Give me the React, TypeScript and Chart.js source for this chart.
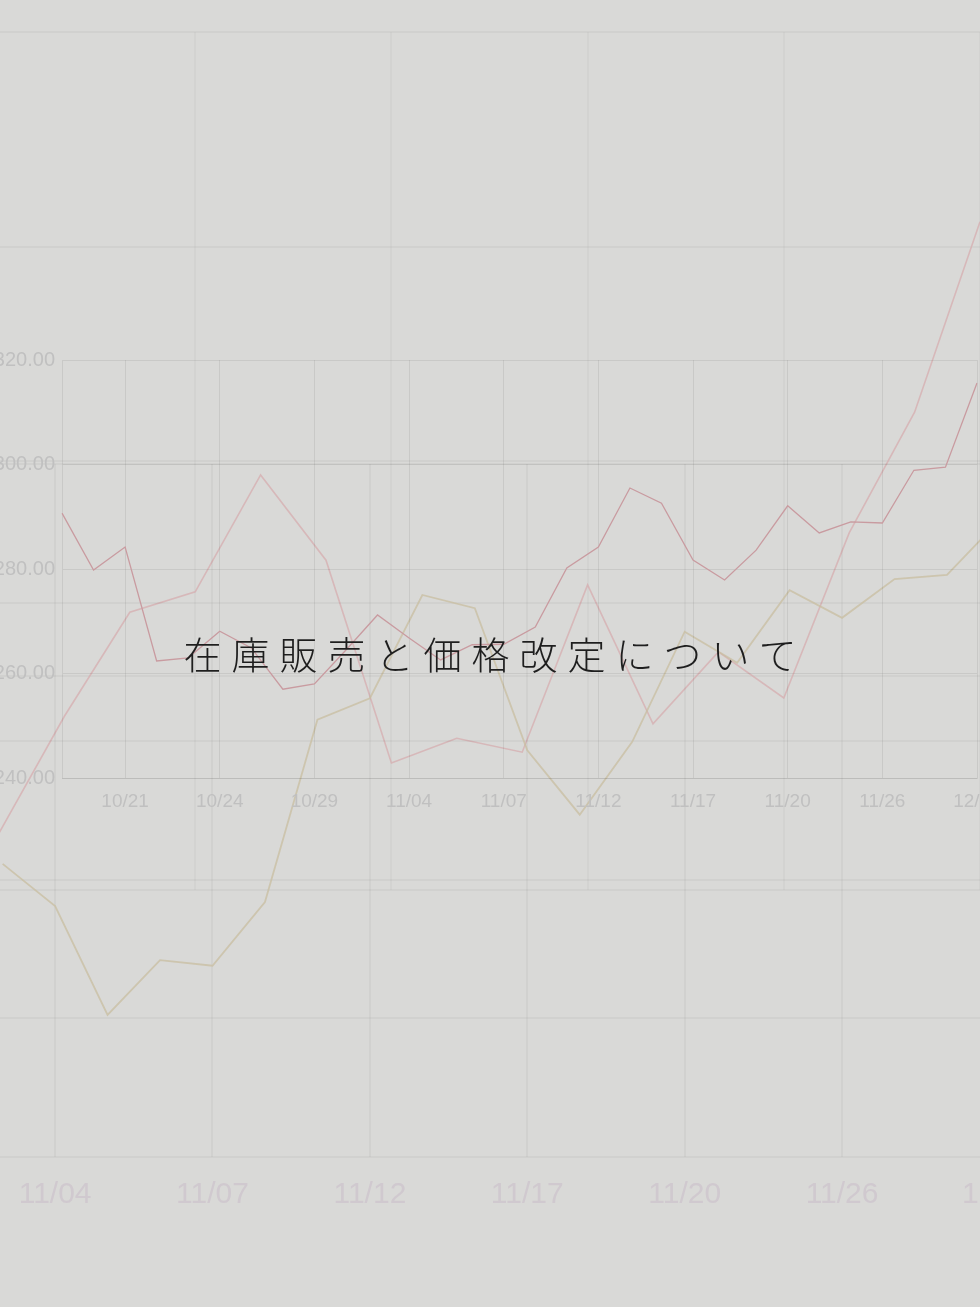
import React, { useEffect, useRef } from "react";
import { Chart, registerables } from "chart.js";
Chart.register(...registerables);

// ---- data ----
const dateLabels = [
  "10/17", "10/20", "10/21", "10/22", "10/23", "10/24", "10/27", "10/28", "10/29", "10/30",
  "10/31", "11/04", "11/05", "11/06", "11/07", "11/10", "11/11", "11/12", "11/13", "11/14",
  "11/17", "11/18", "11/19", "11/20", "11/21", "11/25", "11/26", "11/27", "11/28", "12/01",
];
// foreground price series
const priceSeries = [
  290.7, 279.8, 284.2, 262.4, 263.0, 268.1, 264.9, 257.0, 258.0, 264.5,
  271.2, 266.8, 262.6, 265.5, 265.6, 268.9, 280.2, 284.2, 295.5, 292.6,
  281.7, 277.9, 283.6, 292.1, 286.9, 289.0, 288.8, 298.9, 299.5, 315.6,
];
const yTicks = [240, 260, 280, 300, 320];
// enlarged background series (beige)
const bgBeigeSeries = [
  null, null, null, null, null, null, null, null, null, null,
  242.3, 236.2, 220.5, 228.4, 227.6, 236.8, 263.1, 266.2, 281.1, 279.2,
  258.7, 249.4, 259.9, 275.8, 271.3, 281.8, 277.8, 283.4, 284.0, 291.9,
];
const bgYTicks = [200, 220, 240, 260, 280, 300];
// farthest background series (pale rose)
const farLabels = dateLabels.slice(14);
const farRoseSeries = [
  210.6, 232.4, 251.8, 255.6, 277.4, 261.5, 223.7, 228.3, 225.7, 256.9,
  231.0, 244.4, 235.8, 266.6, 289.1, 324.6,
];
const farYTicks = [200, 240, 280, 320, 360];

const title = "在庫販売と価格改定について";

const FONT = "'Liberation Sans', Arial, sans-serif";
const CLEAR = "rgba(0,0,0,0)";

function Layer({ left, top, width, height, config }: any) {
  const ref = useRef<HTMLCanvasElement>(null);
  useEffect(() => {
    const chart = new Chart(ref.current as HTMLCanvasElement, config);
    return () => chart.destroy();
  }, []);
  return (
    <canvas
      ref={ref}
      width={width}
      height={height}
      style={{ position: "absolute", left, top, width, height }}
    />
  );
}

const farConfig: any = {
  type: "line",
  data: {
    labels: farLabels,
    datasets: [
      { data: farRoseSeries, borderColor: "rgba(214,170,172,0.7)", borderWidth: 1.6, pointRadius: 0, tension: 0 },
    ],
  },
  options: {
    responsive: false,
    animation: false,
    layout: { padding: { left: 10, right: 10, top: 10, bottom: 10 } },
    plugins: { legend: { display: false }, tooltip: { enabled: false } },
    scales: {
      x: {
        ticks: { display: false },
        grid: { color: (c: any) => (c.index % 3 === 0 ? "rgba(0,0,0,0.028)" : CLEAR), drawTicks: false, lineWidth: 2 },
        border: { display: false },
        afterFit: (s: any) => { s.height = 0; },
      },
      y: {
        min: farYTicks[0],
        max: farYTicks[farYTicks.length - 1],
        afterBuildTicks: (s: any) => { s.ticks = farYTicks.map((v) => ({ value: v })); },
        ticks: { display: false },
        grid: { color: "rgba(0,0,0,0.035)", drawTicks: false, lineWidth: 2 },
        border: { display: false },
        afterFit: (s: any) => { s.width = 0; },
      },
    },
  },
};

const bgConfig: any = {
  type: "line",
  data: {
    labels: dateLabels,
    datasets: [
      { data: bgBeigeSeries, borderColor: "rgba(200,190,160,0.75)", borderWidth: 1.8, pointRadius: 0, tension: 0 },
    ],
  },
  options: {
    responsive: false,
    animation: false,
    layout: { padding: { left: 50, right: 50, top: 10, bottom: 0 } },
    plugins: { legend: { display: false }, tooltip: { enabled: false } },
    scales: {
      x: {
        ticks: {
          autoSkip: false,
          maxRotation: 0,
          padding: 20,
          color: "#d0c9cf",
          font: { family: FONT, size: 30 },
          callback: (_v: any, i: number) => (i % 3 === 2 ? dateLabels[i] : ""),
        },
        grid: { color: (c: any) => (c.index % 3 === 2 ? "rgba(0,0,0,0.035)" : CLEAR), drawTicks: false, lineWidth: 2 },
        border: { display: false },
        afterFit: (s: any) => { s.height = 60; },
      },
      y: {
        min: bgYTicks[0],
        max: bgYTicks[bgYTicks.length - 1],
        afterBuildTicks: (s: any) => { s.ticks = bgYTicks.map((v) => ({ value: v })); },
        ticks: { display: false },
        grid: { color: "rgba(0,0,0,0.035)", drawTicks: false, lineWidth: 2 },
        border: { display: false },
        afterFit: (s: any) => { s.width = 0; },
      },
    },
  },
};

const fgConfig: any = {
  type: "line",
  data: {
    labels: dateLabels,
    datasets: [
      { data: priceSeries, borderColor: "#c99ba0", borderWidth: 1.3, pointRadius: 0, tension: 0 },
    ],
  },
  options: {
    responsive: false,
    animation: false,
    layout: { padding: { left: 0, right: 40, top: 30, bottom: 0 } },
    plugins: { legend: { display: false }, tooltip: { enabled: false } },
    scales: {
      x: {
        ticks: {
          autoSkip: false,
          maxRotation: 0,
          padding: 12,
          color: "#c0c0c0",
          font: { family: FONT, size: 19 },
          callback: (_v: any, i: number) => (i % 3 === 2 ? dateLabels[i] : ""),
        },
        grid: { color: (c: any) => (c.index % 3 === 2 ? "rgba(0,0,0,0.07)" : CLEAR), drawTicks: false },
        border: { color: "rgba(0,0,0,0.07)" },
        afterFit: (s: any) => { s.height = 40; },
      },
      y: {
        min: yTicks[0],
        max: yTicks[yTicks.length - 1],
        afterBuildTicks: (s: any) => { s.ticks = yTicks.map((v) => ({ value: v })); },
        ticks: {
          padding: 7,
          color: "#c0c0c0",
          font: { family: FONT, size: 20 },
          callback: (v: any) => Number(v).toFixed(2),
        },
        grid: { color: "rgba(0,0,0,0.07)", drawTicks: false },
        border: { color: "rgba(0,0,0,0.07)" },
        afterFit: (s: any) => { s.width = 102; },
      },
    },
  },
};

export default function App() {
  const spacing = 10;
  return (
    <div
      style={{
        position: "absolute",
        left: 0,
        top: 0,
        width: 980,
        height: 1307,
        overflow: "hidden",
        background: "#d9d9d7",
      }}
    >
      <Layer left={-11} top={22} width={1001} height={878} config={farConfig} />
      <Layer left={-572} top={454} width={1629} height={763} config={bgConfig} />
      <Layer left={-40} top={330} width={1057} height={488} config={fgConfig} />
      <div
        style={{
          position: "absolute",
          left: 0,
          top: 634,
          width: 980,
          textAlign: "center",
          fontFamily: "'Noto Sans CJK JP', sans-serif",
          fontWeight: 300,
          fontSize: 38,
          lineHeight: "38px",
          letterSpacing: spacing,
          paddingLeft: spacing,
          boxSizing: "border-box",
          color: "#1e1e1e",
          whiteSpace: "nowrap",
        }}
      >
        {title}
      </div>
    </div>
  );
}
